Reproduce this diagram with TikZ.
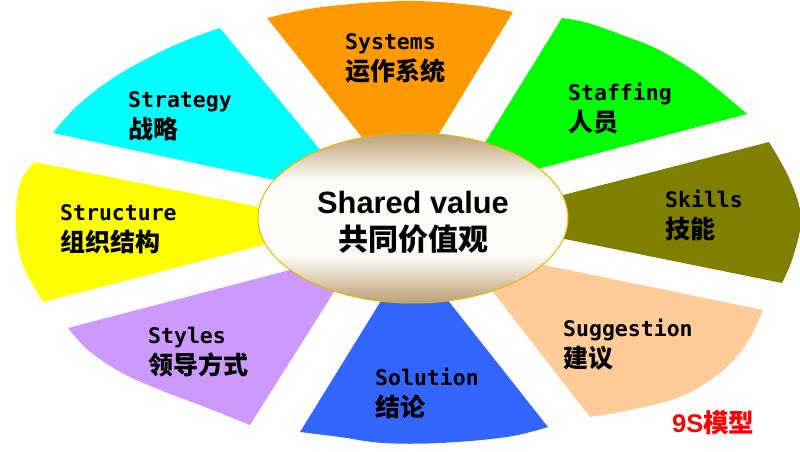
\documentclass[tikz,border=0pt]{standalone}
\usepackage{fontspec}
\setmainfont{Liberation Sans}
\newfontfamily\segfont{DejaVu Sans Mono}
\newfontfamily\zhfont{Noto Sans CJK SC}
\usepackage{xcolor}
\usepackage{tikz}
\usetikzlibrary{
    positioning,
    shapes.geometric,
}

\definecolor{strategyc}{HTML}{00FFFF}
\definecolor{systemsc}{HTML}{FF9900}
\definecolor{staffingc}{HTML}{00FF00}
\definecolor{skillsc}{HTML}{808000}
\definecolor{suggestc}{HTML}{FFCC99}
\definecolor{solutionc}{HTML}{3366FF}
\definecolor{stylesc}{HTML}{CC99FF}
\definecolor{structurec}{HTML}{FFFF00}
\definecolor{coretan}{RGB}{188,158,116}
\definecolor{corecream}{RGB}{255,253,247}
\definecolor{coreedge}{HTML}{E8B400}
\pgfdeclareverticalshading{coreshade}{100bp}{
    color(0bp)=(coretan); color(25bp)=(coretan);
    color(39bp)=(corecream); color(61bp)=(corecream);
    color(75bp)=(coretan); color(100bp)=(coretan)}

\begin{document}
\begin{tikzpicture}[
        x=1pt, y=-1pt,
        core/.style={
            ellipse, draw=coreedge, line width=1pt, shade, shading=coreshade,
            minimum width=310pt, minimum height=170pt, inner sep=0pt
        },
        coreen/.style={
            anchor=base, inner sep=0pt,
            font=\bfseries\fontsize{30.8}{34}\selectfont
        },
        corezh/.style={
            inner sep=0pt, font=\zhfont\bfseries\fontsize{30}{34}\selectfont
        },
        segen/.style={
            anchor=base west, inner sep=0pt,
            font=\segfont\bfseries\fontsize{21.5}{24}\selectfont
        },
        segzh/.style={
            inner sep=0pt, font=\zhfont\bfseries\fontsize{25}{28}\selectfont
        },
        modelmark/.style={
            anchor=base west, inner sep=0pt, text=red,
            font=\bfseries\fontsize{25.5}{28}\selectfont
        },
    ]

    \useasboundingbox (0,0) rectangle (800,452);
    \clip (0,0) rectangle (800,452);

    % ── Sectors ──
    \fill[strategyc] (345,180) -- (345,195) -- plot[smooth, tension=0.6]
        coordinates {(53,133) (76,107) (110,80) (150,57) (187,40) (220,28)} -- cycle;
    \fill[systemsc] (388,170) -- plot[smooth, tension=0.6]
        coordinates {(267,18) (322,7) (405,1) (472,5) (513,12)} -- (417,170) -- cycle;
    \fill[staffingc] (465,175) -- plot[smooth, tension=0.6]
        coordinates {(562,18) (588,23) (622,35) (655,48) (688,67) (715,87) (747,114)}
        -- (465,188) -- cycle;
    \fill[skillsc] (540,201) -- plot[smooth, tension=0.6]
        coordinates {(769,142) (790,180) (801,218) (793,257) (782,283)} -- (540,234) -- cycle;
    \fill[suggestc] (476,251) -- plot[smooth, tension=0.6]
        coordinates {(763,310) (747,343) (720,373) (680,397) (630,410) (590,417)}
        -- (476,270) -- cycle;
    \fill[solutionc] (424,270) -- plot[smooth, tension=0.6]
        coordinates {(548,427) (507,437) (440,443) (383,443) (340,437) (300,432)}
        -- (400,270) -- cycle;
    \fill[stylesc] (351,254) -- plot[smooth, tension=0.6]
        coordinates {(68,328) (88,350) (122,373) (165,392) (205,407) (250,425)}
        -- (351,265) -- cycle;
    \fill[structurec] (290,213) -- plot[smooth, tension=0.6]
        coordinates {(35,162) (20,183) (16,223) (22,263) (43,302)} -- (290,238) -- cycle;

    % ── Centre ──
    \node[core] (core) at (413,218) {};
    \node[coreen] (shared) at (413,213) {Shared value};
    \node[corezh, below=37pt of shared.base, anchor=base] (sharedzh) {共同价值观};

    % ── Sector labels ──
    \node[segen] (strategy) at (128,107) {Strategy};
    \node[segzh, below=31pt of strategy.base west, anchor=base west] (strategyzh) {战略};
    \node[segen] (systems) at (345,50) {Systems};
    \node[segzh, below=31pt of systems.base west, anchor=base west] (systemszh) {运作系统};
    \node[segen] (staffing) at (568,100) {Staffing};
    \node[segzh, below=31pt of staffing.base west, anchor=base west] (staffingzh) {人员};
    \node[segen] (skills) at (665,207) {Skills};
    \node[segzh, below=31pt of skills.base west, anchor=base west] (skillszh) {技能};
    \node[segen] (structure) at (60,220) {Structure};
    \node[segzh, below=31pt of structure.base west, anchor=base west] (structurezh) {组织结构};
    \node[segen] (styles) at (148,343) {Styles};
    \node[segzh, below=31pt of styles.base west, anchor=base west] (styleszh) {领导方式};
    \node[segen] (suggestion) at (563,336) {Suggestion};
    \node[segzh, below=31pt of suggestion.base west, anchor=base west] (suggestionzh) {建议};
    \node[segen] (solution) at (375,385) {Solution};
    \node[segzh, below=31pt of solution.base west, anchor=base west] (solutionzh) {结论};

    % ── Model name ──
    \node[modelmark] (model) at (672,432) {9S{\zhfont 模型}};

\end{tikzpicture}
\end{document}
